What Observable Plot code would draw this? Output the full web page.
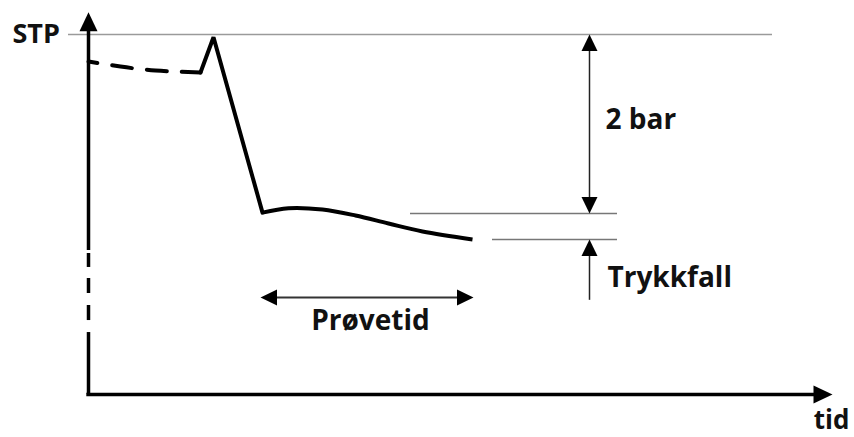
<!DOCTYPE html>
<html>
<head>
<meta charset="utf-8">
<script src="https://cdn.jsdelivr.net/npm/d3@7"></script>
<script src="https://cdn.jsdelivr.net/npm/@observablehq/plot@0.6"></script>
<style>
  html, body { margin: 0; padding: 0; background: #fff; }
  svg { display: block; }
</style>
</head>
<body>
<div id="chart"></div>
<script>
// ---- Data (time t in arbitrary minutes, pressure p in bar) ----
// Pressure before the test (dashed)
const preT = [0, 3.2, 6.7, 11.2];
const preP = [3.698, 3.642, 3.598, 3.575];
// Pressure up to STP and fall to test pressure
const riseT = [11.2, 12.5, 17.4];
const riseP = [3.575, 3.97, 2.01];
// Pressure during the test period (curved)
const testT = [17.4, 20.0, 23.4, 26.7, 30.0, 33.4, 38.4];
const testP = [2.01, 2.06, 2.045, 1.978, 1.888, 1.799, 1.71];

// Reference levels
const stpLevel = 4.0;
const testLevel = 2.0;
const endLevel = 1.71;
const stpLineT = [-2.0, 68.4];
const testLineT = [32.2, 52.9];
const endLineT = [40.4, 52.9];

// Dimension arrows
const dimT = 50.1;
const dropArrowBottom = 1.03;
const periodP = 1.061;
const periodT = [17.2, 38.5];

// Axes
const axisP = -0.022;
const axisXEnd = 74.4;
const axisYTop = 4.25;
// y axis segments (solid / dashed break)
const yAxisSegLow  = [-0.022, 0.804, 1.106, 1.397, 1.587];
const yAxisSegHigh = [0.670, 0.972, 1.274, 1.553, 4.10];

// Labels
const labels = ["STP", "2 bar", "Trykkfall", "Prøvetid", "tid"];
const labelT = [-7.6, 51.7, 51.9, 28.2, 74.3];
const labelP = [4.0, 3.04, 1.274, 0.804, -0.32];

// ---- Build tables ----
const pre = preT.map((t, i) => ({t, p: preP[i]}));
const rise = riseT.map((t, i) => ({t, p: riseP[i]}));
const test = testT.map((t, i) => ({t, p: testP[i]}));
const ySegs = yAxisSegLow.map((a, i) => ({a, b: yAxisSegHigh[i]}));
const texts = labels.map((s, i) => ({s, t: labelT[i], p: labelP[i]}));

const axisHeads = [
  {t: 0, p: axisYTop, dir: 0},
  {t: axisXEnd, p: axisP, dir: 90}
];
const dimHeads = [
  {t: dimT, p: stpLevel, dir: 0},
  {t: dimT, p: testLevel, dir: 180},
  {t: dimT, p: endLevel, dir: 0},
  {t: periodT[0], p: periodP, dir: 270},
  {t: periodT[1], p: periodP, dir: 90}
];

// triangle symbol with tip at origin, pointing up
function tri(len, wid) {
  return {
    draw(ctx) {
      ctx.moveTo(0, 0);
      ctx.lineTo(wid / 2, len);
      ctx.lineTo(-wid / 2, len);
      ctx.closePath();
    }
  };
}

const font = {fontFamily: "'Open Sans', 'DejaVu Sans', sans-serif", fontWeight: 700, fill: "#111"};
const pick = (...names) => texts.filter(d => names.includes(d.s));

const chart = Plot.plot({
  width: 854,
  height: 437,
  marginLeft: 88,
  marginRight: 0,
  marginTop: 0,
  marginBottom: 45,
  x: {domain: [0, 76.6], axis: null},
  y: {domain: [0, 4.38], axis: null},
  marks: [
    // reference lines
    Plot.ruleY([stpLevel], {x1: stpLineT[0], x2: stpLineT[1], stroke: "#9a9a9a", strokeWidth: 1.5}),
    Plot.ruleY([testLevel], {x1: testLineT[0], x2: testLineT[1], stroke: "#777", strokeWidth: 1.5}),
    Plot.ruleY([endLevel], {x1: endLineT[0], x2: endLineT[1], stroke: "#777", strokeWidth: 1.5}),
    // dimension lines
    Plot.ruleX([dimT], {y1: stpLevel - 0.1, y2: testLevel + 0.1, stroke: "#222", strokeWidth: 1.5}),
    Plot.ruleX([dimT], {y1: endLevel - 0.1, y2: dropArrowBottom, stroke: "#222", strokeWidth: 1.5}),
    Plot.ruleY([periodP], {x1: periodT[0] + 1, x2: periodT[1] - 1, stroke: "#333", strokeWidth: 2}),
    // axes
    Plot.ruleX(ySegs, {x: 0, y1: "a", y2: "b", stroke: "#000", strokeWidth: 3.5}),
    Plot.ruleY([axisP], {x1: -0.17, x2: axisXEnd - 1, stroke: "#000", strokeWidth: 3.5}),
    Plot.dot(axisHeads, {x: "t", y: "p", rotate: "dir", symbol: tri(19, 18), fill: "#000", stroke: "none", r: 5}),
    Plot.dot(dimHeads, {x: "t", y: "p", rotate: "dir", symbol: tri(16.5, 16), fill: "#000", stroke: "none", r: 5}),
    // pressure curve
    Plot.line(pre, {x: "t", y: "p", stroke: "#000", strokeWidth: 4, strokeDasharray: "20,15", strokeDashoffset: 11, curve: "natural"}),
    Plot.line(rise, {x: "t", y: "p", stroke: "#000", strokeWidth: 4, strokeLinejoin: "miter", strokeLinecap: "round"}),
    Plot.line(test, {x: "t", y: "p", stroke: "#000", strokeWidth: 4, curve: "catmull-rom", strokeLinecap: "butt"}),
    // labels
    Plot.text(pick("STP"), {x: "t", y: "p", text: "s", textAnchor: "start", fontSize: 27, ...font}),
    Plot.text(pick("2 bar", "Trykkfall"), {x: "t", y: "p", text: "s", textAnchor: "start", fontSize: 28, ...font}),
    Plot.text(pick("Prøvetid"), {x: "t", y: "p", text: "s", textAnchor: "middle", fontSize: 28, ...font}),
    Plot.text(pick("tid"), {x: "t", y: "p", text: "s", textAnchor: "middle", fontSize: 26, ...font})
  ]
});
document.getElementById("chart").appendChild(chart);
</script>
</body>
</html>
